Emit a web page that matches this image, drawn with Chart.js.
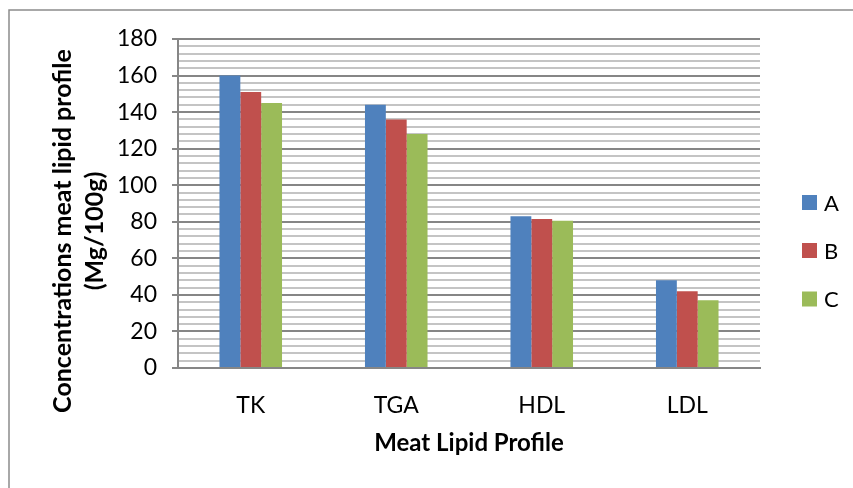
<!DOCTYPE html>
<html>
<head>
<meta charset="utf-8">
<script src="https://cdn.jsdelivr.net/npm/chart.js@4.4.0/dist/chart.umd.min.js"></script>
<style>
    html, body { margin: 0; padding: 0; background: #fff; }
</style>
</head>
<body>
<canvas id="chart1" width="853" height="488"></canvas>
<script>
const categories = ["TK", "TGA", "HDL", "LDL"];
const seriesNames = ["A", "B", "C"];
const seriesA = [160, 144, 83, 48];
const seriesB = [151, 136, 81.5, 42];
const seriesC = [145, 128, 80.5, 37];
const seriesColors = ["#4F81BD", "#C0504D", "#9BBB59"];
const yTickLabels = [0, 20, 40, 60, 80, 100, 120, 140, 160, 180];

const FONT = "Lato";

// outer frame (only top and left edges show in the picture)
const framePlugin = {
    id: 'frame',
    beforeDraw: (chart) => {
        const ctx = chart.ctx;
        ctx.save();
        ctx.strokeStyle = "#8c8c8c";
        ctx.lineWidth = 1.5;
        ctx.beginPath();
        ctx.moveTo(9, 488);
        ctx.lineTo(9, 10);
        ctx.lineTo(853, 10);
        ctx.stroke();
        ctx.restore();
    }
};

// two-line y axis title, centred a bit lower than the plot middle
const yTitlePlugin = {
    id: 'yTitle',
    afterDraw: (chart) => {
        const ctx = chart.ctx;
        ctx.save();
        ctx.translate(63, 231);
        ctx.rotate(-Math.PI / 2);
        ctx.font = `bold 25px ${FONT}`;
        ctx.fillStyle = "#000";
        ctx.textAlign = "center";
        ctx.textBaseline = "middle";
        ctx.fillText("Concentrations meat lipid profile", 0, 0);
        ctx.fillText("(Mg/100g)", 0, 32);
        ctx.restore();
    }
};

// legend on the right
const legendPlugin = {
    id: 'customLegend',
    afterDraw: (chart) => {
        const ctx = chart.ctx;
        const centers = [202.5, 250.5, 299];
        ctx.save();
        ctx.font = `22px ${FONT}`;
        ctx.textAlign = "left";
        ctx.textBaseline = "middle";
        chart.data.datasets.forEach((ds, i) => {
            const y = centers[i];
            ctx.fillStyle = ds.backgroundColor;
            ctx.fillRect(802, y - 7.5, 15, 15);
            ctx.fillStyle = "#000";
            ctx.fillText(ds.label, 824, y + 1);
        });
        ctx.restore();
    }
};

const ctx = document.getElementById("chart1").getContext("2d");

new Chart(ctx, {
    type: 'bar',
    data: {
        labels: categories,
        datasets: [
            { label: seriesNames[0], data: seriesA, backgroundColor: seriesColors[0] },
            { label: seriesNames[1], data: seriesB, backgroundColor: seriesColors[1] },
            { label: seriesNames[2], data: seriesC, backgroundColor: seriesColors[2] },
        ]
    },
    options: {
        responsive: false,
        animation: false,
        layout: {
            padding: { left: 0, top: 39, right: 93, bottom: 0 }
        },
        datasets: {
            bar: {
                barPercentage: 1,
                categoryPercentage: 0.43,
                borderWidth: 0,
            }
        },
        plugins: {
            legend: { display: false },
            tooltip: { enabled: false }
        },
        scales: {
            x: {
                grid: { display: false, drawTicks: false },
                border: { color: '#868686', width: 2 },
                ticks: {
                    color: '#000',
                    font: { family: FONT, size: 23 },
                    padding: 24,
                },
                title: {
                    display: true,
                    text: 'Meat Lipid Profile',
                    color: '#000',
                    font: { family: FONT, size: 24, weight: 'bold' },
                    padding: { top: 0, bottom: 30 }
                },
                afterFit: (scale) => { scale.height = 120; }
            },
            y: {
                min: 0,
                max: 180,
                grid: {
                    color: (c) => c.tick && c.tick.value % 20 === 0 ? '#868686' : '#c4c4c4',
                    tickColor: (c) => c.tick && c.tick.value % 20 === 0 ? '#868686' : 'rgba(0,0,0,0)',
                    lineWidth: 2,
                    tickLength: 6,
                },
                border: { color: '#868686', width: 2 },
                ticks: {
                    stepSize: 4,
                    autoSkip: false,
                    color: '#000',
                    padding: 15,
                    font: { family: FONT, size: 23 },
                    callback: (v) => yTickLabels.includes(v) ? String(v) : ''
                },
                afterFit: (scale) => { scale.width = 178; }
            }
        }
    },
    plugins: [framePlugin, yTitlePlugin, legendPlugin]
});
</script>
</body>
</html>
